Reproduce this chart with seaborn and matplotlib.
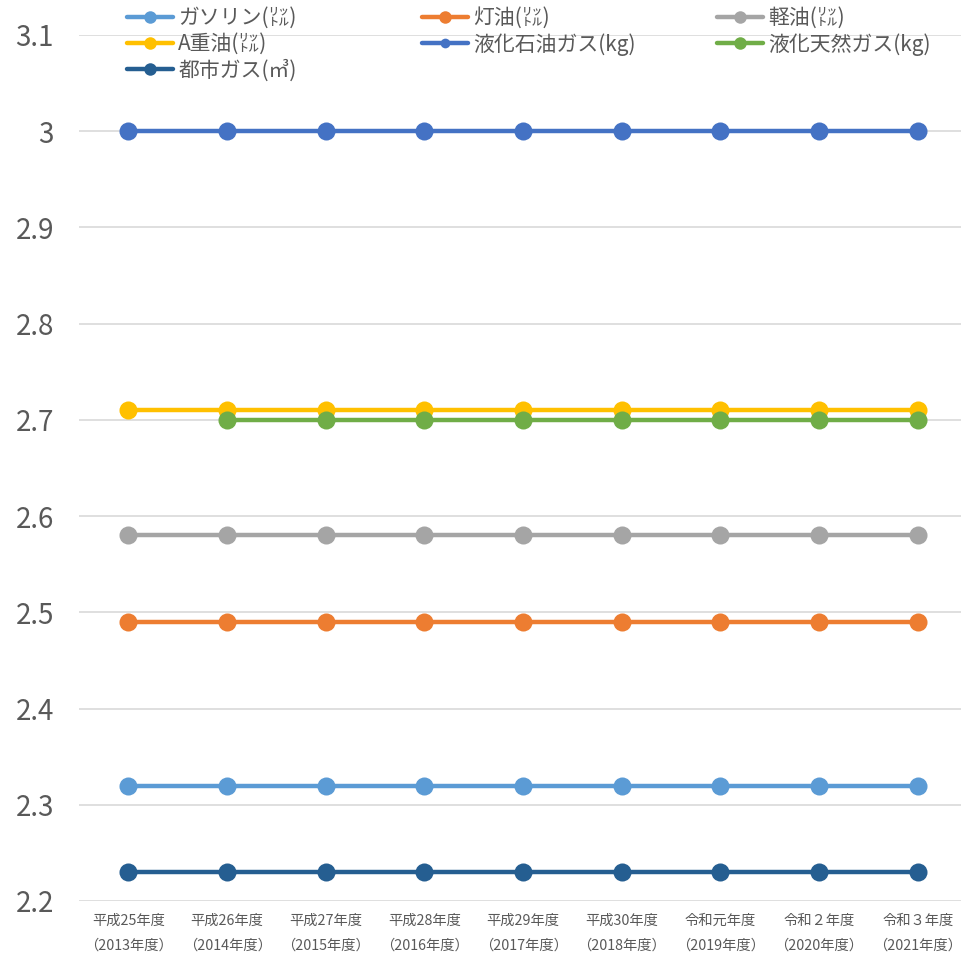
import numpy as np
import pandas as pd
import matplotlib
matplotlib.use("Agg")
import matplotlib.pyplot as plt
import seaborn as sns
from matplotlib.lines import Line2D

sns.set_theme(style="white")
plt.rcParams['font.family'] = ['Noto Sans CJK JP', 'DejaVu Sans']

years = ["平成25年度\n（2013年度）", "平成26年度\n（2014年度）", "平成27年度\n（2015年度）",
         "平成28年度\n（2016年度）", "平成29年度\n（2017年度）", "平成30年度\n（2018年度）",
         "令和元年度\n（2019年度）", "令和２年度\n（2020年度）", "令和３年度\n（2021年度）"]

gasoline = [2.32] * 9
kerosene = [2.49] * 9
diesel = [2.58] * 9
a_heavy = [2.71] * 9
lpg = [3.00] * 9
lng = [np.nan] + [2.70] * 8
city_gas = [2.23] * 9

series_names = ["ガソリン(㍑)", "灯油(㍑)", "軽油(㍑)", "A重油(㍑)",
                "液化石油ガス(kg)", "液化天然ガス(kg)", "都市ガス(㎥)"]
series_values = [gasoline, kerosene, diesel, a_heavy, lpg, lng, city_gas]
colors = ["#5B9BD5", "#ED7D31", "#A5A5A5", "#FFC000", "#4472C4", "#70AD47", "#255E91"]

yticks = [2.2, 2.3, 2.4, 2.5, 2.6, 2.7, 2.8, 2.9, 3.0, 3.1]
ytick_labels = ["2.2", "2.3", "2.4", "2.5", "2.6", "2.7", "2.8", "2.9", "3", "3.1"]

rows = []
for name, vals in zip(series_names, series_values):
    for i, v in enumerate(vals):
        rows.append({"pos": i, "value": v, "fuel": name})
df = pd.DataFrame(rows)

fig = plt.figure(figsize=(9.62, 9.56), dpi=100)
ax = fig.add_axes([79 / 962, 1 - 901 / 956, (967 - 79) / 962, (901 - 35) / 956])

for name, col in zip(series_names, colors):
    sub = df[df["fuel"] == name].dropna()
    sns.lineplot(data=sub, x="pos", y="value", color=col, linewidth=3.2,
                 marker="o", markersize=13, markeredgewidth=0, ax=ax,
                 legend=False, zorder=3)

ax.set_xlim(-0.5, len(years) - 0.5)
ax.set_ylim(2.2, 3.1)
ax.set_yticks(yticks)
ax.set_yticklabels(ytick_labels)
ax.set_xticks(range(len(years)))
ax.set_xticklabels(years, linespacing=2.0)
ax.tick_params(axis="y", labelsize=20, labelcolor="#595959", length=0, pad=18)
ax.tick_params(axis="x", labelsize=10.3, labelcolor="#595959", length=0, pad=9)
ax.grid(axis="y", color="#D9D9D9", linewidth=1.2, zorder=0)
ax.set_axisbelow(True)
for s in ax.spines.values():
    s.set_visible(False)
ax.set_xlabel("")
ax.set_ylabel("")

# legend in three columns
handles = [Line2D([0], [0], color=c, linewidth=3.2, marker="o", markersize=9,
                  markeredgewidth=0) for c in colors]
handles[4] = Line2D([0], [0], color=colors[4], linewidth=3.2, marker="o",
                    markersize=7, markeredgewidth=0)
groups = [([0, 3, 6], 123), ([1, 4], 418), ([2, 5], 713)]
for idx, xpix in groups:
    leg = fig.legend([handles[i] for i in idx], [series_names[i] for i in idx],
                     loc="upper left", bbox_to_anchor=(xpix / 962, 1 - 3 / 956),
                     frameon=False, fontsize=15, handlelength=2.2,
                     handletextpad=0.25, labelspacing=0.19, borderaxespad=0,
                     borderpad=0.2)
    for t in leg.get_texts():
        t.set_color("#595959")

fig.savefig("out.png", dpi=100)
